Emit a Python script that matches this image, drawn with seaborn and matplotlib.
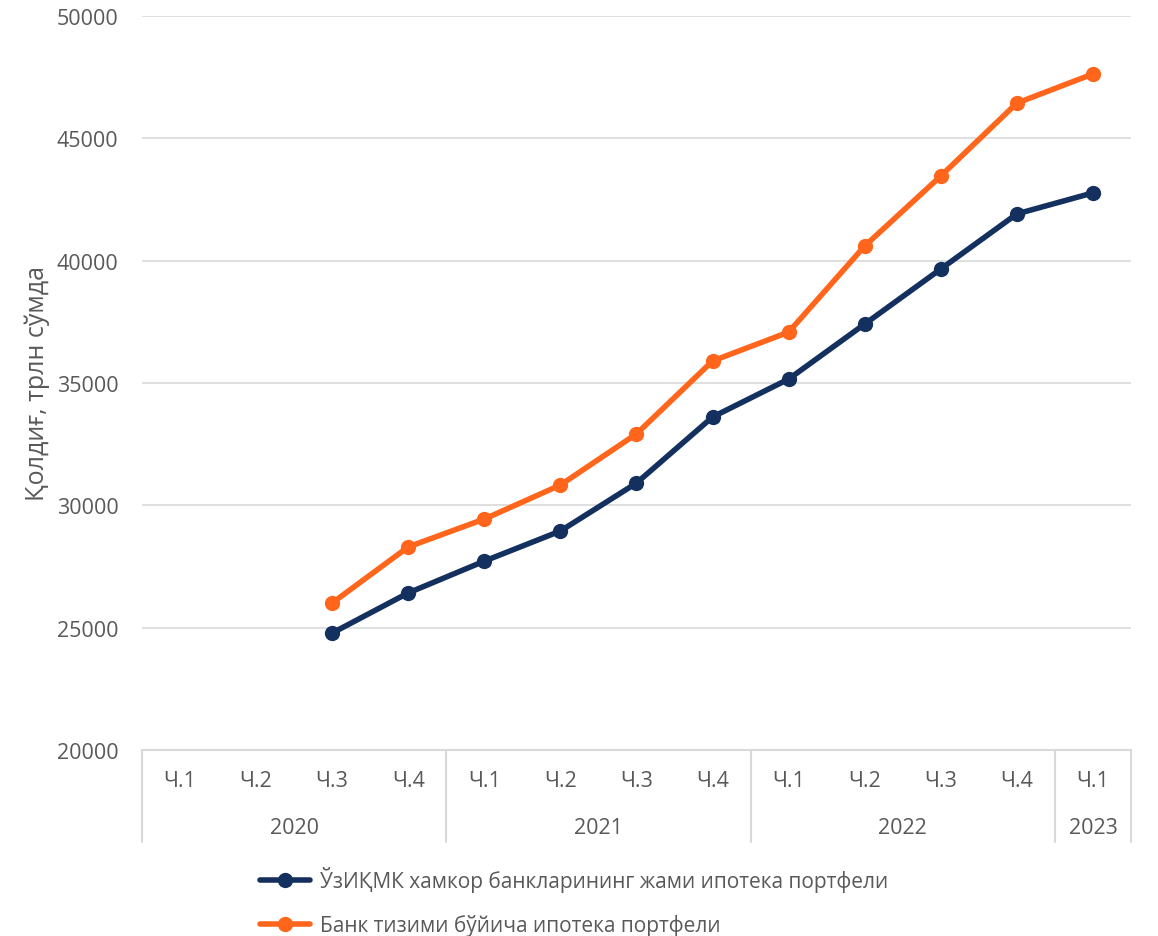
import numpy as np
import pandas as pd
import matplotlib
matplotlib.use("Agg")
import matplotlib.pyplot as plt
import seaborn as sns

# --- data ---
years = ["2020", "2021", "2022", "2023"]
quarters_per_year = [4, 4, 4, 1]
quarter_labels = ["Ч.1", "Ч.2", "Ч.3", "Ч.4",
                  "Ч.1", "Ч.2", "Ч.3", "Ч.4",
                  "Ч.1", "Ч.2", "Ч.3", "Ч.4",
                  "Ч.1"]
partner_banks = [np.nan, np.nan, 24780, 26420,
                 27720, 28950, 30910, 33610,
                 35160, 37410, 39660, 41910,
                 42770]
bank_system = [np.nan, np.nan, 26010, 28300,
               29440, 30830, 32920, 35900,
               37080, 40600, 43460, 46440,
               47630]
series_names = ["ЎзИҚМК хамкор банкларининг жами ипотека портфели",
                "Банк тизими бўйича ипотека портфели"]
colors = ["#14305E", "#FF661C"]

n = len(quarter_labels)
df = pd.DataFrame({
    "idx": list(range(n)) * 2,
    "value": partner_banks + bank_system,
    "series": [series_names[0]] * n + [series_names[1]] * n,
}).dropna()

sns.set_theme(style="white")
plt.rcParams["font.family"] = ["Open Sans", "DejaVu Sans"]
text_color = "#595959"
grid_color = "#D9D9D9"

fig = plt.figure(figsize=(11.58, 9.37), dpi=100)
ax = fig.add_axes([0.1226, 0.1985, 0.8541, 0.7834])

sns.lineplot(data=df, x="idx", y="value", hue="series", hue_order=series_names,
             palette=colors, marker="o", markersize=11, markeredgewidth=0,
             linewidth=4, ax=ax, legend=True)

ax.set_xlim(-0.5, n - 0.5)
ax.set_ylim(20000, 50000)
ax.set_yticks(range(20000, 50001, 5000))
ax.yaxis.grid(True, color=grid_color, linewidth=1.2)
ax.set_axisbelow(True)
for s in ["left", "right", "top"]:
    ax.spines[s].set_visible(False)
ax.spines["bottom"].set_color(grid_color)
ax.spines["bottom"].set_linewidth(1.5)
ax.tick_params(axis="y", length=0, labelsize=15.5, labelcolor=text_color, pad=17)
ax.set_xticks([])
ax.set_xlabel("")
ax.set_ylabel("Қолдиғ, трлн сўмда", fontsize=18, color=text_color, labelpad=5)

# two-level category axis
trans = ax.get_xaxis_transform()
for i, lab in enumerate(quarter_labels):
    ax.text(i, -0.041, lab, transform=trans, ha="center", va="center",
            fontsize=15.5, color=text_color)
start = 0
bounds = [-0.5]
for yr, cnt in zip(years, quarters_per_year):
    mid = start + (cnt - 1) / 2
    ax.text(mid, -0.106, yr, transform=trans, ha="center", va="center",
            fontsize=15.5, color=text_color)
    start += cnt
    bounds.append(start - 0.5)
for b in bounds:
    ax.plot([b, b], [0, -0.125], transform=trans, color=grid_color,
            linewidth=1.5, clip_on=False)

leg = ax.legend(loc="upper left", bbox_to_anchor=(0.1, -0.133), frameon=False,
                fontsize=15, handlelength=2.4, labelspacing=1.05, handletextpad=0.5)
for t in leg.get_texts():
    t.set_color(text_color)

fig.savefig("out.png", dpi=100)
